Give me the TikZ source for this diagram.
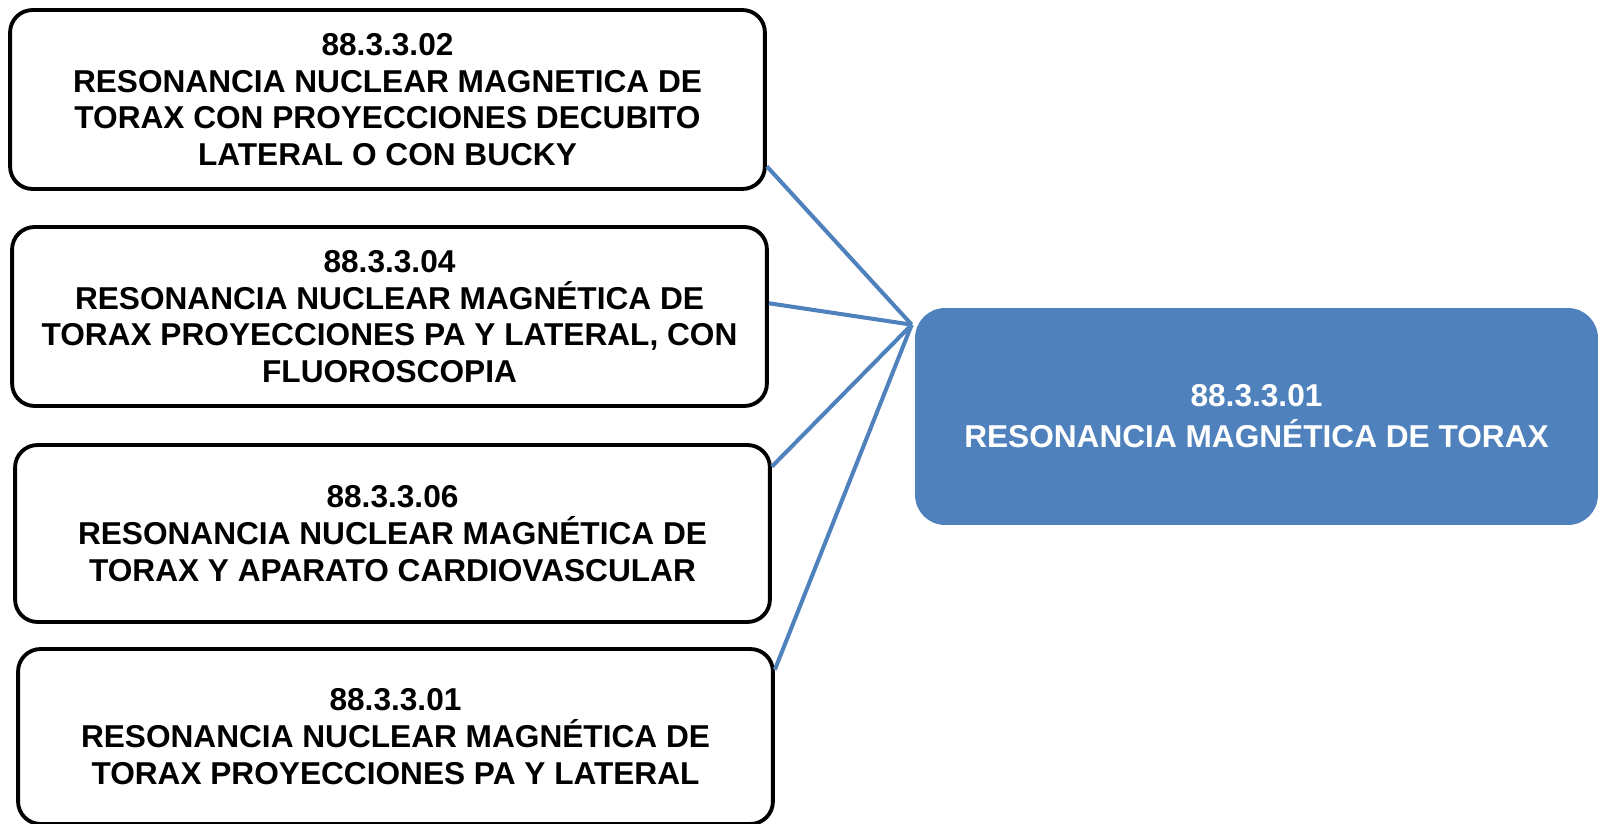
\documentclass[tikz,border=0pt]{standalone}
\usepackage{fontspec}
\setmainfont{Liberation Sans}
\definecolor{officeblue}{HTML}{4F81BD}
\tikzset{
  exam/.style={draw=black, line width=2.2pt, fill=white, rounded corners=0.45cm,
    minimum width=15.1cm, inner sep=0pt, align=center,
    font=\bfseries\fontsize{18}{20.9}\selectfont},
  target/.style={fill=officeblue, text=white, rounded corners=0.6cm,
    minimum width=13.66cm, minimum height=4.34cm, inner sep=0pt, align=center,
    font=\bfseries\fontsize{18}{23.3}\selectfont},
  link/.style={draw=officeblue, line width=2.3pt}
}
\begin{document}
\begin{tikzpicture}[x=0.02cm, y=-0.02cm]
            \useasboundingbox (0,0) rectangle (1600,824);
            % The four exam boxes on the left
            \foreach \id/\x/\y/\h/\txt in {
              02/387.5/99.5/3.58/{88.3.3.02\\RESONANCIA NUCLEAR MAGNETICA DE\\TORAX CON PROYECCIONES DECUBITO\\LATERAL O CON BUCKY},
              04/389.5/316.5/3.58/{88.3.3.04\\RESONANCIA NUCLEAR MAGNÉTICA DE\\TORAX PROYECCIONES PA Y LATERAL, CON\\FLUOROSCOPIA},
              06/392.5/533.5/3.54/{88.3.3.06\\RESONANCIA NUCLEAR MAGNÉTICA DE\\TORAX Y APARATO CARDIOVASCULAR},
              01/395.5/736.5/3.5/{88.3.3.01\\RESONANCIA NUCLEAR MAGNÉTICA DE\\TORAX PROYECCIONES PA Y LATERAL}} {
              \node [exam, minimum height=\h cm] (ex\id) at (\x,\y) {\txt};
            }
            % The blue box on the right
            \node [target] (torax) at (1256.5,416.5) {88.3.3.01\\RESONANCIA MAGNÉTICA DE TORAX};
            \coordinate (hub) at ([xshift=-0.06cm, yshift=-0.34cm]torax.north west);
            % Connectors into the blue box
            \foreach \id/\ang in {02/-10.6, 04/2.2, 06/10.9, 01/10.2} {
              \draw [link] (ex\id.\ang) -- (hub);
            }
\end{tikzpicture}
\end{document}
